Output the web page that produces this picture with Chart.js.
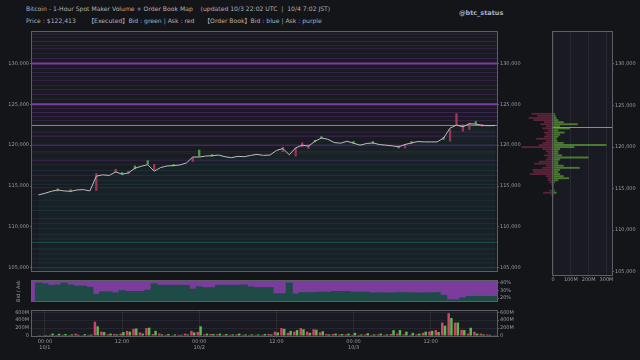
<!DOCTYPE html>
<html><head><meta charset="utf-8">
<script src="https://cdn.jsdelivr.net/npm/chart.js@4.4.1/dist/chart.umd.min.js"></script>
<style>
html,body{margin:0;padding:0;background:#141519;width:640px;height:360px;overflow:hidden;font-family:"DejaVu Sans",sans-serif;}
canvas{position:absolute;}
.t{position:absolute;color:#b0b0b8;font-size:6.1px;white-space:pre;line-height:1;font-family:"DejaVu Sans","Noto Sans CJK JP",sans-serif;}
.b{font-family:"Noto Sans CJK JP",sans-serif;color:#b0b0b8;}
.h{position:absolute;color:#a8b0c8;font-size:6.5px;font-weight:bold;white-space:pre;}
</style></head><body>
<div class="t" style="left:26px;top:6px">Bitcoin - 1-Hour Spot Maker Volume + Order Book Map    (updated 10/3 22:02 UTC  |  10/4 7:02 JST)</div>
<div class="t" style="left:26px;top:18px">Price : $122,413</div>
<div class="t" style="left:88px;top:18px"><span class="b">【</span>Executed<span class="b">】</span>Bid : green | Ask : red</div>
<div class="t" style="left:204px;top:18px"><span class="b">【</span>Order Book<span class="b">】</span>Bid : blue | Ask : purple</div>
<div class="h" style="left:459px;top:9px">@btc_status</div>
<canvas id="main" width="530" height="249" style="left:0;top:26px"></canvas>
<canvas id="ratio" width="530" height="28" style="left:0;top:277px"></canvas>
<canvas id="vol" width="530" height="50" style="left:0;top:307px"></canvas>
<canvas id="book" width="140" height="259" style="left:500px;top:26px"></canvas>
<script>
// ---------- DATA ----------
const hours = [-1,0,1,2,3,4,5,6,7,8,9,10,11,12,13,14,15,16,17,18,19,20,21,22,23,24,25,26,27,28,29,30,31,32,33,34,35,36,37,38,39,40,41,42,43,44,45,46,47,48,49,50,51,52,53,54,55,56,57,58,59,60,61,62,63,64,65,66,67,68,69,70];
const price = [113910,114110,114350,114520,114400,114350,114520,114560,114400,116210,116370,116290,116730,116450,116610,117180,117420,117620,116810,117260,117460,117500,117580,117820,118550,118550,118670,118710,118790,118590,118470,118630,118590,118750,118870,118750,118790,119350,119590,118830,119670,120000,119880,120480,120880,120720,120320,120240,120480,120240,120000,120200,120280,120080,120000,119920,119800,120080,120280,120440,120400,120400,120400,120880,122090,122460,122250,122620,122580,122420,122380,122413];
const bidRatio = [40,39,37,37.5,40,37.5,36,36,34.4,25,28.4,28.4,27,30,29,29,29,30.6,39,37,37,37,37,37,32,35,34,34,37,37,37,37,37.5,35,34,34,34,26,26,40,25.6,27.5,27.5,27.5,28,28,29,29,29,28,28,28,27,27,27,27,27.5,27.5,27,27,27,27,27.5,23.8,18,18,20.6,22.5,22.5,22.5,22.5,22.5];
const volAsk = [15,20,30,25,30,25,60,20,30,360,110,40,50,60,130,180,90,200,50,60,30,20,30,60,130,100,40,50,40,30,30,40,30,30,30,30,50,110,200,80,110,200,110,170,90,50,50,40,40,30,30,40,30,40,30,50,60,40,30,40,80,110,150,340,577,340,155,60,108,60,40,20];
const volBid = [20,25,60,55,50,40,30,45,35,245,100,60,40,100,110,190,60,210,130,40,50,40,30,40,90,246,60,50,60,50,40,60,40,40,40,50,40,90,180,130,150,170,80,160,120,40,60,50,60,80,40,70,40,60,40,146,150,110,80,60,110,130,100,262,454,340,150,208,60,40,30,20];
const askLevels = [133600,133200,132700,132200,131800,131200,130600,130000,129400,128900,128400,127900,127300,126800,126200,125600,125000,124500,124000,123500,123000,121600,121100,120000,119200,118100];
const askSize   = [20,15,25,15,20,15,25,100,20,25,15,20,15,25,20,15,100,25,30,25,25,25,30,60,15,25];
const bidLevels = [119000,118300,117600,116900,116300,115700,115200,114800,114000,113200,112500,112000,111000,110400,109800,109100,108500,108100,107300,106700,106100,105600,105000];
const bidSize   = [15,15,20,20,25,20,20,25,15,15,15,25,20,20,15,25,20,70,25,15,20,20,55];
const profilePrice = [124000,123750,123500,123250,123000,122750,122500,122250,122000,121750,121500,121250,121000,120750,120500,120250,120000,119750,119500,119250,119000,118750,118500,118250,118000,117750,117500,117250,117000,116750,116500,116250,116000,115750,115500,115250,115000,114750,114500,114250];
const profileBid = [10,15,20,30,60,139,40,95,30,65,40,30,20,25,60,300,120,40,30,30,50,200,40,30,30,60,150,40,30,40,60,90,30,10,5,5,5,10,20,5];
const profileAsk = [-121,-90,-137,-110,-50,-70,-40,-60,-30,-50,-40,-50,-95,-40,-60,-80,-177,-60,-40,-30,-50,-30,-40,-80,-105,-40,-60,-115,-110,-130,-40,-30,-30,-20,-10,-5,-5,-20,-55,-10];
const markHour = [2,4,8,11,12,13,14,16,17,20,23,24,26,37,39,40,41,42,43,48,51,55,56,57,62,63,64,65,66,67,68];
const markLow  = [114400,114300,114440,116700,116400,116500,117100,117700,117000,117450,118000,118670,118650,119200,118670,119800,119600,120400,120800,120200,120200,119650,119650,120200,120700,120480,122400,121700,121900,122600,122300];
const markHigh = [114650,114550,116530,117050,116650,116800,117450,118100,117650,117650,118470,119400,118850,119750,119670,120300,120050,120600,121050,120450,120450,119900,120100,120450,120950,121900,123850,122500,122700,122900,122550];
const markSide = ['b','b','a','a','b','a','b','b','a','b','a','b','b','a','a','a','a','b','b','b','b','b','a','b','b','a','a','a','a','b','a'];
const currentPrice = 122413;
const priceTicks = [105000,110000,115000,120000,125000,130000];
const ratioTicks = [20,30,40];
const volTicks = [0,200,400,600];
const bookTicks = [0,100,200,300];
const timeTicks = [0,12,24,36,48,60];
const timeLabels = [["00:00","10/1"],"12:00",["00:00","10/2"],"12:00",["00:00","10/3"],"12:00"];

// ---------- STYLE ----------
const X_MIN = -2, X_MAX = 70.3, Y_MIN = 104600, Y_MAX = 133850;
const TXT = '#9a9aa2', AXC = '#5e5e66', PLOT = '#1a1b22', YEL = '#a8921f';
Chart.defaults.font.family = '"DejaVu Sans", sans-serif';
Chart.defaults.font.size = 5;
Chart.defaults.color = TXT;

const frame = {
  id: 'frame',
  beforeDraw(c, a, o) { const {ctx, chartArea: r} = c; ctx.save(); ctx.fillStyle = o.bg; ctx.fillRect(r.left, r.top, r.right - r.left, r.bottom - r.top); ctx.restore(); },
  afterDraw(c, a, o) {
    const {ctx, chartArea: r} = c; ctx.save();
    if (o.hline != null) {
      const yp = Math.round(c.scales.y.getPixelForValue(o.hline)) + 0.5;
      ctx.strokeStyle = YEL; ctx.lineWidth = 1;
      ctx.beginPath(); ctx.moveTo(r.left, yp); ctx.lineTo(r.right, yp); ctx.stroke();
    }
    ctx.strokeStyle = AXC; ctx.lineWidth = 1;
    ctx.strokeRect(Math.round(r.left) - 0.5, Math.round(r.top) - 0.5, Math.round(r.right - r.left) + 1, Math.round(r.bottom - r.top) + 1);
    ctx.restore();
  }
};
const fixW = w => s => { s.width = w; };
const fixH = h => s => { s.height = h; };
const setTicks = vals => s => { s.ticks = vals.map(v => ({value: v})); };
const tickGrid = {display: true, drawOnChartArea: false, drawTicks: true, tickLength: 2, color: AXC, offset: false};
const base = {responsive: false, animation: false, events: [], plugins: {legend: {display: false}, tooltip: {enabled: false}}};
const xTime = {type: 'linear', min: X_MIN, max: X_MAX, display: false, offset: false, grid: {offset: false}};
const fmtPrice = v => Number(v).toLocaleString('en-US');

// ---------- MAIN ----------
const levelSets = [];
askLevels.forEach((L, i) => levelSets.push({type: 'line', data: [{x: X_MIN, y: L}, {x: X_MAX, y: L}], borderColor: `rgba(145,65,195,${0.05 + askSize[i] / 100 * 0.8})`, borderWidth: askSize[i] >= 90 ? 2 : 1, pointRadius: 0, order: 10}));
bidLevels.forEach((L, i) => levelSets.push({type: 'line', data: [{x: X_MIN, y: L}, {x: X_MAX, y: L}], borderColor: `rgba(40,130,130,${0.04 + bidSize[i] / 100 * 0.7})`, borderWidth: 1, pointRadius: 0, order: 10}));
new Chart(document.getElementById('main'), {
  type: 'line',
  data: {datasets: [
    {type: 'line', data: hours.map((h, i) => ({x: h, y: price[i]})), borderColor: '#bdbdc2', borderWidth: 1, pointRadius: 0, tension: 0, fill: 'start', backgroundColor: 'rgba(25,75,75,0.13)', order: 0},
    {type: 'line', data: [{x: X_MIN, y: currentPrice}, {x: X_MAX, y: currentPrice}], borderColor: YEL, borderWidth: 1, pointRadius: 0, order: 2},
    {type: 'bar', data: markHour.map((h, i) => ({x: h, y: [markLow[i], markHigh[i]]})), backgroundColor: markSide.map(s => s === 'a' ? 'rgba(220,60,100,0.75)' : 'rgba(90,205,70,0.75)'), barThickness: 1.6, order: 1},
    ...levelSets
  ]},
  options: {...base, layout: {padding: {top: 6}},
    plugins: {...base.plugins, frame: {bg: PLOT}},
    scales: {
      x: xTime,
      y: {type: 'linear', position: 'left', min: Y_MIN, max: Y_MAX, afterFit: fixW(32), afterBuildTicks: setTicks(priceTicks), ticks: {padding: 1, autoSkip: false, callback: fmtPrice}, grid: tickGrid, border: {display: false}},
      y2: {type: 'linear', position: 'right', min: Y_MIN, max: Y_MAX, afterFit: fixW(33), afterBuildTicks: setTicks(priceTicks), ticks: {padding: 1, autoSkip: false, callback: fmtPrice}, grid: tickGrid, border: {display: false}}
    }},
  plugins: [frame]
});

// ---------- RATIO ----------
new Chart(document.getElementById('ratio'), {
  type: 'bar',
  data: {datasets: [{data: hours.map((h, i) => ({x: h, y: bidRatio[i]})), backgroundColor: '#1f4b47', barPercentage: 1, categoryPercentage: 1, yAxisID: 'y2'}]},
  options: {...base, layout: {padding: {top: 1}},
    plugins: {...base.plugins, frame: {bg: '#7b3d9c'}},
    scales: {
      x: xTime,
      y: {type: 'linear', position: 'left', min: 16.3, max: 42.5, afterFit: fixW(32), ticks: {display: false}, grid: {display: false}, border: {display: false}, title: {display: true, text: 'Bid / Ask', color: TXT, font: {size: 5}, padding: {top: 16, bottom: 0}}},
      y2: {type: 'linear', position: 'right', min: 16.3, max: 42.5, afterFit: fixW(33), afterBuildTicks: setTicks(ratioTicks), ticks: {padding: 1, autoSkip: false, callback: v => v + '%'}, grid: tickGrid, border: {display: false}}
    }},
  plugins: [frame]
});

// ---------- VOLUME ----------
new Chart(document.getElementById('vol'), {
  type: 'bar',
  data: {datasets: [
    {data: hours.map((h, i) => ({x: h, y: volAsk[i]})), backgroundColor: 'rgba(235,70,115,0.9)', barPercentage: 0.9, categoryPercentage: 0.85},
    {data: hours.map((h, i) => ({x: h, y: volBid[i]})), backgroundColor: 'rgba(95,205,80,0.9)', barPercentage: 0.9, categoryPercentage: 0.85}
  ]},
  options: {...base, layout: {padding: {top: 1}},
    plugins: {...base.plugins, frame: {bg: PLOT}},
    scales: {
      x: {type: 'linear', min: X_MIN, max: X_MAX, offset: false, afterFit: fixH(21), afterBuildTicks: setTicks(timeTicks), ticks: {padding: 0, autoSkip: false, maxRotation: 0, font: {size: 5, lineHeight: 1.35}, callback: (v) => timeLabels[timeTicks.indexOf(v)]}, grid: {display: true, offset: false, drawOnChartArea: true, drawTicks: true, tickLength: 2, color: 'rgba(255,255,255,0.07)'}, border: {display: false}},
      y: {type: 'linear', position: 'left', min: 0, max: 632, afterFit: fixW(32), afterBuildTicks: setTicks(volTicks), ticks: {padding: 1, autoSkip: false, callback: v => v === 0 ? '0' : v + 'M'}, grid: {display: true, drawOnChartArea: true, drawTicks: true, tickLength: 2, color: 'rgba(255,255,255,0.05)'}, border: {display: false}},
      y2: {type: 'linear', position: 'right', min: 0, max: 632, afterFit: fixW(33), afterBuildTicks: setTicks(volTicks), ticks: {padding: 1, autoSkip: false, callback: v => v === 0 ? '0' : v + 'M'}, grid: tickGrid, border: {display: false}}
    }},
  plugins: [frame]
});

// ---------- ORDER BOOK PROFILE ----------
new Chart(document.getElementById('book'), {
  type: 'bar',
  data: {datasets: [
    {data: profilePrice.map((p, i) => ({x: profileBid[i], y: p})), backgroundColor: 'rgba(115,200,60,0.55)', barPercentage: 0.9, categoryPercentage: 1, clip: false, grouped: false},
    {data: profilePrice.map((p, i) => ({x: profileAsk[i], y: p})), backgroundColor: 'rgba(185,55,100,0.42)', barPercentage: 0.9, categoryPercentage: 1, clip: false, grouped: false}
  ]},
  options: {...base, indexAxis: 'y', layout: {padding: {left: 53, top: 6}},
    plugins: {...base.plugins, frame: {bg: PLOT, hline: currentPrice}},
    scales: {
      x: {type: 'linear', min: 0, max: 331, offset: false, afterFit: fixH(10), afterBuildTicks: setTicks(bookTicks), ticks: {padding: 0, autoSkip: false, maxRotation: 0, callback: v => v === 0 ? '0' : v + 'M'}, grid: {display: true, offset: false, drawOnChartArea: true, drawTicks: true, tickLength: 2, color: 'rgba(255,255,255,0.06)'}, border: {display: false}},
      y: {type: 'linear', position: 'right', min: Y_MIN, max: Y_MAX, offset: false, afterFit: fixW(28), afterBuildTicks: setTicks(priceTicks), ticks: {padding: 1, autoSkip: false, callback: fmtPrice}, grid: tickGrid, border: {display: false}}
    }},
  plugins: [frame]
});
</script>
</body></html>
